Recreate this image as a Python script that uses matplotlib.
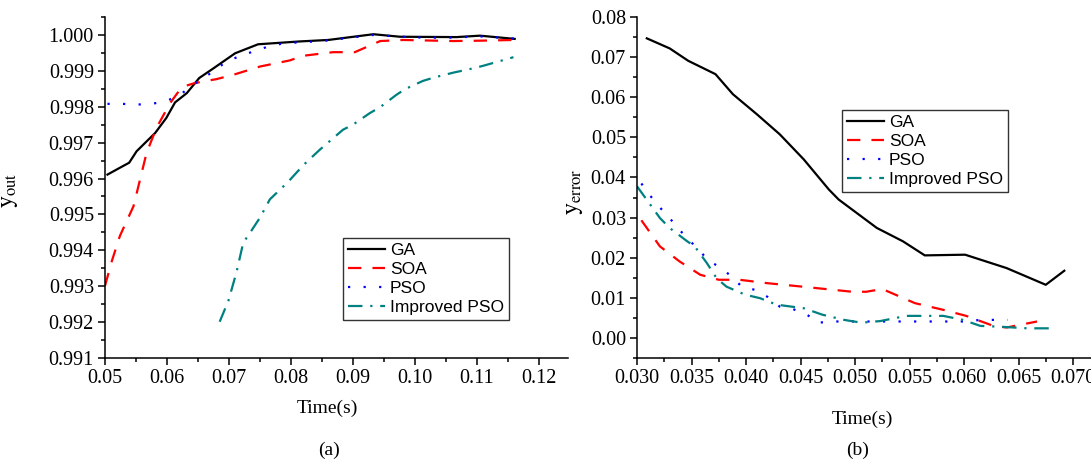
import matplotlib
matplotlib.use("Agg")
import matplotlib.pyplot as plt
from matplotlib.ticker import MultipleLocator, FormatStrFormatter

plt.rcParams['font.family'] = ['Liberation Serif', 'DejaVu Serif']
plt.rcParams['mathtext.fontset'] = 'stix'

# ---------------- (a) y_out vs Time ----------------
a_ga_t = [0.0504, 0.0524, 0.0539, 0.0551, 0.0581, 0.0599, 0.0613, 0.0632, 0.0652, 0.0675,
          0.0710, 0.0747, 0.0815, 0.0860, 0.0933, 0.0976, 0.1067, 0.1105, 0.1161]
a_ga_y = [0.99611, 0.99630, 0.99644, 0.99676, 0.99727, 0.99769, 0.99812, 0.99838, 0.99880, 0.99907,
          0.99949, 0.99974, 0.99982, 0.99986, 1.00002, 0.99995, 0.99994, 0.99998, 0.99989]

a_soa_t = [0.0500, 0.0511, 0.0524, 0.0546, 0.0567, 0.0583, 0.0605, 0.0624, 0.0645, 0.0680,
           0.0707, 0.0750, 0.0798, 0.0820, 0.0868, 0.0903, 0.0944, 0.0981, 0.1062, 0.1105, 0.1160]
a_soa_y = [0.99301, 0.99370, 0.99440, 0.99523, 0.99671, 0.99741, 0.99810, 0.99855, 0.99866, 0.99877,
           0.99889, 0.99912, 0.99929, 0.99942, 0.99952, 0.99952, 0.99983, 0.99986, 0.99983, 0.99984, 0.99986]

a_pso_t = [0.0504, 0.0528, 0.0551, 0.0575, 0.0598, 0.0621, 0.0642, 0.0663, 0.0680, 0.0700,
           0.0722, 0.0745, 0.0767, 0.0790, 0.0850, 0.0933, 0.1000, 0.1050, 0.1105, 0.1161]
a_pso_y = [0.99808, 0.99808, 0.99806, 0.99808, 0.99815, 0.99833, 0.99861, 0.99884, 0.99907, 0.99929,
           0.99944, 0.99957, 0.99970, 0.99977, 0.99983, 1.00000, 0.99993, 0.99992, 0.99996, 0.99990]

a_ipso_t = [0.0685, 0.0699, 0.0712, 0.0723, 0.0734, 0.0750, 0.0766, 0.0795, 0.0821, 0.0847,
            0.0884, 0.0900, 0.0927, 0.0944, 0.0970, 0.0984, 0.1013, 0.1030, 0.1062, 0.1094,
            0.1110, 0.1159]
a_ipso_y = [0.99201, 0.99259, 0.99338, 0.99421, 0.99449, 0.99491, 0.99542, 0.99590, 0.99639, 0.99681,
            0.99736, 0.99750, 0.99782, 0.99799, 0.99833, 0.99849, 0.99872, 0.99881, 0.99895, 0.99907,
            0.99914, 0.99938]

# ---------------- (b) y_error vs Time ----------------
b_ga_t = [0.0309, 0.0330, 0.0347, 0.0372, 0.0388, 0.0410, 0.0431, 0.0453, 0.0476, 0.0485,
          0.0520, 0.0544, 0.0564, 0.0601, 0.0639, 0.0675, 0.0692]
b_ga_y = [0.07468, 0.07217, 0.06908, 0.06575, 0.06075, 0.05575, 0.05075, 0.04450, 0.03700, 0.03450,
          0.02742, 0.02408, 0.02058, 0.02075, 0.01742, 0.01325, 0.01675]

b_soa_t = [0.0304, 0.0321, 0.0339, 0.0358, 0.0375, 0.0394, 0.0419, 0.0450, 0.0495, 0.0510,
           0.0525, 0.0555, 0.0581, 0.0602, 0.0627, 0.0639, 0.0667]
b_soa_y = [0.02933, 0.02283, 0.01908, 0.01575, 0.01450, 0.01450, 0.01367, 0.01283, 0.01158, 0.01150,
           0.01220, 0.00867, 0.00700, 0.00550, 0.00300, 0.00260, 0.00410]

b_pso_t = [0.0304, 0.0312, 0.0320, 0.0329, 0.0338, 0.0355, 0.0365, 0.0378, 0.0387, 0.0396,
           0.0408, 0.0420, 0.0431, 0.0443, 0.0456, 0.0466, 0.0480, 0.0520, 0.0560, 0.0600,
           0.0615, 0.0640]
b_pso_y = [0.0385, 0.0355, 0.0328, 0.0302, 0.0272, 0.0224, 0.0195, 0.0172, 0.0153, 0.0128,
           0.0120, 0.0102, 0.0078, 0.0072, 0.0058, 0.0038, 0.0041, 0.0041, 0.0041, 0.0041,
           0.0045, 0.0045]

b_ipso_t = [0.0300, 0.0312, 0.0321, 0.0330, 0.0346, 0.0353, 0.0364, 0.0373, 0.0382, 0.0399,
            0.0413, 0.0428, 0.0453, 0.0470, 0.0490, 0.0506, 0.0523, 0.0547, 0.0581, 0.0599,
            0.0615, 0.0633, 0.0658, 0.0684]
b_ipso_y = [0.0378, 0.0333, 0.0299, 0.0274, 0.0241, 0.0228, 0.0187, 0.0149, 0.0128, 0.0108,
            0.0099, 0.0083, 0.0074, 0.0058, 0.0045, 0.0038, 0.0042, 0.0055, 0.0055, 0.0045,
            0.0030, 0.0028, 0.0024, 0.0024]

labels = ['GA', 'SOA', 'PSO', 'Improved PSO']
colors = ['black', 'red', 'blue', '#008080']
styles = ['-', (0, (6, 5)), (0, (1, 6)), (0, (6.5, 3.5, 1, 3.5))]
widths = [1.6, 1.6, 1.6, 1.6]

W, H = 1091, 461
fig = plt.figure(figsize=(W / 100, H / 100), dpi=100)

ax1 = fig.add_axes([105 / W, 1 - 358 / H, (568 - 105) / W, (358 - 17) / H])
ax2 = fig.add_axes([637 / W, 1 - 358 / H, (1091 - 637) / W, (358 - 17) / H])

for ax, series in ((ax1, [(a_ga_t, a_ga_y), (a_soa_t, a_soa_y), (a_pso_t, a_pso_y), (a_ipso_t, a_ipso_y)]),
                   (ax2, [(b_ga_t, b_ga_y), (b_soa_t, b_soa_y), (b_pso_t, b_pso_y), (b_ipso_t, b_ipso_y)])):
    for (t, y), lab, c, ls, lw in zip(series, labels, colors, styles, widths):
        ax.plot(t, y, color=c, linestyle=ls, linewidth=lw, label=lab)
    for s in ('top', 'right'):
        ax.spines[s].set_visible(False)
    for s in ('left', 'bottom'):
        ax.spines[s].set_linewidth(1.1)
    ax.tick_params(which='major', direction='out', length=5, width=1.1, labelsize=14.5, pad=3)
    ax.tick_params(which='minor', direction='out', length=3, width=1.1)

ax1.set_xlim(0.05, 0.1247)
ax1.set_ylim(0.991, 1.0005)
ax1.xaxis.set_major_locator(MultipleLocator(0.01))
ax1.xaxis.set_minor_locator(MultipleLocator(0.005))
ax1.yaxis.set_major_locator(MultipleLocator(0.001))
ax1.yaxis.set_minor_locator(MultipleLocator(0.0005))
ax1.xaxis.set_major_formatter(FormatStrFormatter('%.2f'))
ax1.yaxis.set_major_formatter(FormatStrFormatter('%.3f'))
ax1.set_xlabel('Time(s)', fontsize=14)
ax1.set_ylabel(r'$\mathrm{y}_{\mathrm{out}}$', fontsize=17)
ax1.xaxis.set_label_coords((327 - 105) / 463, (358 - 400) / 341)
ax1.yaxis.set_label_coords((20 - 105) / 463, (358 - 190) / 341)

ax2.set_xlim(0.030, 0.07165)
ax2.set_ylim(-0.005, 0.08)
ax2.xaxis.set_major_locator(MultipleLocator(0.005))
ax2.xaxis.set_minor_locator(MultipleLocator(0.0025))
ax2.yaxis.set_major_locator(MultipleLocator(0.01))
ax2.yaxis.set_minor_locator(MultipleLocator(0.005))
ax2.xaxis.set_major_formatter(FormatStrFormatter('%.3f'))
ax2.yaxis.set_major_formatter(FormatStrFormatter('%.2f'))
ax2.set_xlabel('Time(s)', fontsize=14)
ax2.set_ylabel(r'$\mathrm{y}_{\mathrm{error}}$', fontsize=17)
ax2.xaxis.set_label_coords((862 - 637) / 454, (358 - 411) / 341)
ax2.yaxis.set_label_coords((585 - 637) / 454, (358 - 192) / 341)

leg_kw = dict(prop={'family': ['Liberation Sans', 'DejaVu Sans'], 'size': 12.5},
              frameon=True, fancybox=False, edgecolor='#333333', framealpha=1,
              handlelength=2.1, handletextpad=0.3, labelspacing=0.22,
              borderpad=0.3, borderaxespad=0)
l1 = ax1.legend(loc='upper left', bbox_to_anchor=((343 - 105) / (568 - 105), (358 - 238) / (358 - 17)), **leg_kw)
l2 = ax2.legend(loc='upper left', bbox_to_anchor=((842 - 637) / (1091 - 637), (358 - 110) / (358 - 17)), **leg_kw)
for l in (l1, l2):
    l.get_frame().set_linewidth(1.0)

fig.text(329 / W, 1 - 450 / H, '(a)', fontsize=14, ha='center', va='center')
fig.text(858 / W, 1 - 450 / H, '(b)', fontsize=14, ha='center', va='center')

fig.savefig('out.png', dpi=100)
